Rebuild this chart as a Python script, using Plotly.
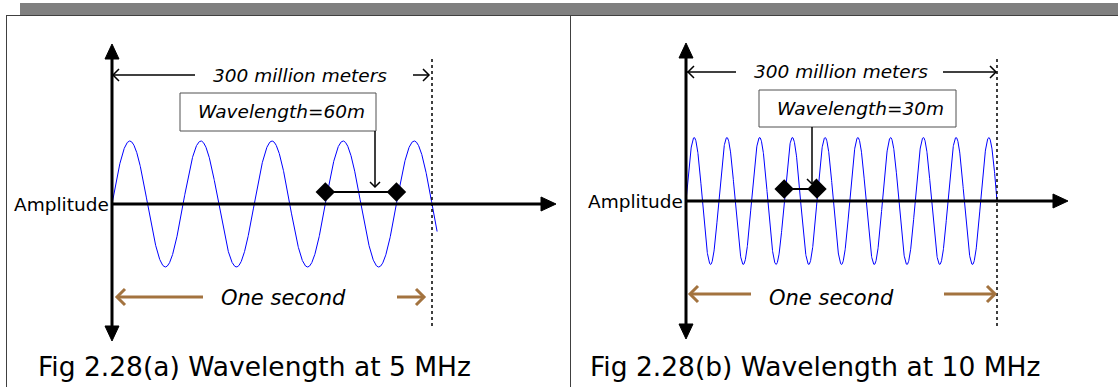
import numpy as np
import plotly.graph_objects as go

# ---------------- data ----------------
captions = ["Fig 2.28(a) Wavelength at 5 MHz", "Fig 2.28(b) Wavelength at 10 MHz"]
frequencies_mhz = [5, 10]
cycles_in_second = [4.5, 9.5]          # cycles drawn up to the "one second" marker
wave_end = [1.016, 1.0]                # where the drawn wave stops (in seconds)
wavelength_labels = ["Wavelength=60m", "Wavelength=30m"]
marked_cycle = [3, 3]                  # the cycle bracketed by the diamonds
marker_level = [0.19, 0.19]            # height of the bracket (amplitude units)
span_label = "300 million meters"
time_label = "One second"
amp_label = "Amplitude"

# ---------------- layout geometry (pixels) ----------------
W, H = 1118, 387
ORIGIN_X = [112, 686]
AXIS_Y = [204, 201]
SECOND_X = [432, 997]
AMP_PX = [63, 63.5]
PANEL_X = [(0, 570), (570, W)]

FONT = "DejaVu Sans"
BROWN = "#A3733F"


def P(px, py):
    return px / W, 1 - py / H


shapes = []
annotations = []


def line(x0, y0, x1, y1, color="black", width=1, dash=None):
    a, b = P(x0, y0)
    c, d = P(x1, y1)
    ln = dict(color=color, width=width)
    if dash:
        ln["dash"] = dash
    shapes.append(dict(type="line", xref="paper", yref="paper", x0=a, y0=b, x1=c, y1=d,
                       line=ln, layer="above"))


def path(points, color="black", width=1, fill=None, close=False):
    s = ""
    for i, (px, py) in enumerate(points):
        a, b = P(px, py)
        s += ("M" if i == 0 else "L") + f"{a:.6f},{b:.6f} "
    if close:
        s += "Z"
    shp = dict(type="path", xref="paper", yref="paper", path=s, layer="above",
               line=dict(color=color, width=width))
    if fill:
        shp["fillcolor"] = fill
    shapes.append(shp)


def tri(tip, direction, length=15, half=7):
    tx, ty = tip
    if direction == "up":
        pts = [(tx, ty), (tx - half, ty + length), (tx + half, ty + length)]
    elif direction == "down":
        pts = [(tx, ty), (tx - half, ty - length), (tx + half, ty - length)]
    else:  # right
        pts = [(tx, ty), (tx - length, ty - half), (tx - length, ty + half)]
    path(pts, color="black", width=1, fill="black", close=True)


def chevron(tip, direction, size=6, color="black", width=1.5):
    tx, ty = tip
    if direction == "left":
        pts = [(tx + size, ty - size), (tx, ty), (tx + size, ty + size)]
    elif direction == "right":
        pts = [(tx - size, ty - size), (tx, ty), (tx - size, ty + size)]
    else:  # down
        pts = [(tx - size, ty - size), (tx, ty), (tx + size, ty - size)]
    path(pts, color=color, width=width)


def text(px, py, s, size, italic=False, xanchor="center"):
    a, b = P(px, py)
    annotations.append(dict(x=a, y=b, xref="paper", yref="paper", text=s, showarrow=False,
                            xanchor=xanchor, yanchor="middle",
                            font=dict(family=FONT, size=size, color="black",
                                      style="italic" if italic else "normal")))


fig = go.Figure()

# frame
shapes.append(dict(type="rect", xref="paper", yref="paper", x0=20 / W, x1=1, y0=1 - 16 / H, y1=1 - 3 / H,
                   fillcolor="#808080", line=dict(width=0), layer="below"))
line(6, 15.5, W, 15.5, color="#404040", width=1)
line(6.5, 15, 6.5, H, color="#404040", width=1)
line(570.5, 15, 570.5, H, color="#404040", width=1)

for i in range(2):
    ox, oy, sx_px, amp = ORIGIN_X[i], AXIS_Y[i], SECOND_X[i], AMP_PX[i]
    scale = sx_px - ox
    xl, xr = PANEL_X[i]
    xa = "xaxis" if i == 0 else "xaxis2"
    ya = "yaxis" if i == 0 else "yaxis2"
    xref = "x" if i == 0 else "x2"
    yref = "y" if i == 0 else "y2"

    fig.update_layout(**{
        xa: dict(domain=[xl / W, xr / W], range=[(xl - ox) / scale, (xr - ox) / scale],
                 visible=False, fixedrange=True),
        ya: dict(domain=[0, 1], range=[(oy - H) / amp, oy / amp], visible=False,
                 fixedrange=True, anchor=xref),
    })
    if i == 1:
        fig.layout.xaxis2.anchor = "y2"

    # sine wave
    t = np.linspace(0, wave_end[i], 2000)
    y = np.sin(2 * np.pi * cycles_in_second[i] * t)
    fig.add_trace(go.Scatter(x=t, y=y, mode="lines", line=dict(color="#0000FF", width=1),
                             xaxis=xref, yaxis=yref, hoverinfo="skip", showlegend=False))

    # wavelength bracket with diamonds
    k = marked_cycle[i]
    bx = [k / cycles_in_second[i], (k + 1) / cycles_in_second[i]]
    fig.add_trace(go.Scatter(x=bx, y=[marker_level[i]] * 2, mode="lines+markers",
                             line=dict(color="black", width=2),
                             marker=dict(symbol="diamond", size=15, color="black"),
                             xaxis=xref, yaxis=yref, cliponaxis=False, hoverinfo="skip",
                             showlegend=False))

    # axes
    top_tip = 44 if i == 0 else 43
    bot_tip = 341 if i == 0 else 339
    right_tip = 556 if i == 0 else 1068
    line(ox, top_tip + 12, ox, bot_tip - 12, width=3)
    tri((ox, top_tip), "up")
    tri((ox, bot_tip), "down")
    line(ox, oy, right_tip - 12, oy, width=3)
    tri((right_tip, oy), "right")

    # one second dashed line
    line(sx_px, 59, sx_px, 329, width=1.5, dash="dot")

    # 300 million meters
    if i == 0:
        ty = 75
        text(300, ty + 1, span_label, 18.5, italic=True)
        line(ox, ty, 195, ty, width=1.5)
        chevron((ox + 1, ty), "left")
        line(413, ty, 429, ty, width=1.5)
        chevron((429, ty), "right")
    else:
        ty = 72
        text(841, ty - 1, span_label, 18.5, italic=True)
        line(ox, ty, 736, ty, width=1.5)
        chevron((ox + 2, ty), "left")
        line(943, ty, 996, ty, width=1.5)
        chevron((996, ty), "right")

    # wavelength box
    if i == 0:
        bx0, bx1, by0, by1, arrow_x = 180, 376, 93, 131, 375
    else:
        bx0, bx1, by0, by1, arrow_x = 759, 956, 90, 127, 812
    a0, b0 = P(bx0, by0)
    a1, b1 = P(bx1, by1)
    shapes.append(dict(type="rect", xref="paper", yref="paper", x0=a0, x1=a1, y0=b1, y1=b0,
                       fillcolor="white", line=dict(color="#505050", width=1), layer="above"))
    text((bx0 + bx1) / 2 + 3, (by0 + by1) / 2, wavelength_labels[i], 18.5, italic=True)
    arrow_bottom = 187 if i == 0 else 184
    line(arrow_x, by1, arrow_x, arrow_bottom, width=1.5)
    chevron((arrow_x, arrow_bottom), "down", size=5)

    # amplitude label
    text(ox - 1, oy, amp_label, 18.5, xanchor="right")

    # one second
    sy = 297
    if i == 0:
        text(283, sy + 1, time_label, 21, italic=True)
        line(117, sy, 203, sy, color=BROWN, width=3)
        chevron((117, sy), "left", size=8, color=BROWN, width=3)
        line(397, sy, 424, sy, color=BROWN, width=3)
        chevron((424, sy), "right", size=8, color=BROWN, width=3)
    else:
        text(831, sy + 1, time_label, 21, italic=True)
        line(690, sy - 3, 751, sy - 3, color=BROWN, width=3)
        chevron((690, sy - 3), "left", size=8, color=BROWN, width=3)
        line(944, sy - 3, 995, sy - 3, color=BROWN, width=3)
        chevron((995, sy - 3), "right", size=8, color=BROWN, width=3)

    # caption
    text(36 if i == 0 else 588, 366, captions[i], 26.5, xanchor="left")

fig.update_layout(width=W, height=H, margin=dict(l=0, r=0, t=0, b=0),
                  paper_bgcolor="white", plot_bgcolor="rgba(0,0,0,0)",
                  shapes=shapes, annotations=annotations, showlegend=False)

fig.write_html("out.html", config={"displayModeBar": False},
               post_script="document.body.style.margin='0px';document.body.style.overflow='hidden';")
